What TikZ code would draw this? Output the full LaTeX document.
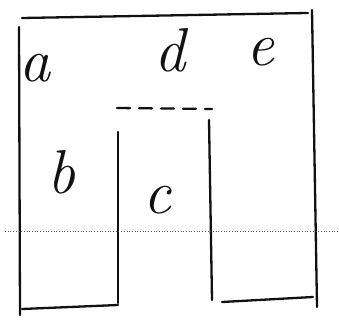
\documentclass[tikz,border=0pt]{standalone}
\usepackage{tikz}
\usetikzlibrary{positioning}
\definecolor{pencil}{HTML}{111111}
\definecolor{foldgray}{HTML}{555555}

\begin{document}
\begin{tikzpicture}[
    x=1pt, y=-1pt,
    every node/.style={font=\fontsize{62}{66}\selectfont\itshape, text=pencil, inner sep=0pt},
    wall/.style={draw=pencil, line width=2.3pt, line cap=round},
    partition/.style={wall, dashed, dash pattern=on 13pt off 9pt},
    fold/.style={draw=foldgray, line width=0.7pt, dotted}
]
\useasboundingbox (0,0) rectangle (339,320);

% labels
\node (la) at (35,68) {a};
\node (ld) at (170,50) {d};
\node (le) at (260,52) {e};
\node (lb) at (61,172) {b};
\node (lc) at (157,200) {c};

% outer walls
\draw[wall] (22,18) -- (308,13);
\draw[wall] (19,27) -- (20,315);
\draw[wall] (312,10) -- (317,307);

% room b
\draw[wall] (22,309) -- (118,305);
\draw[wall] (118,132) -- (118,303);

% room c
\draw[partition] (117,108) -- (212,109);
\draw[wall] (209,120) -- (212,300);

% room e
\draw[wall] (222,302) -- (313,297);

% fold of the paper
\draw[fold] (5,231) -- (339,231);

\end{tikzpicture}
\end{document}
